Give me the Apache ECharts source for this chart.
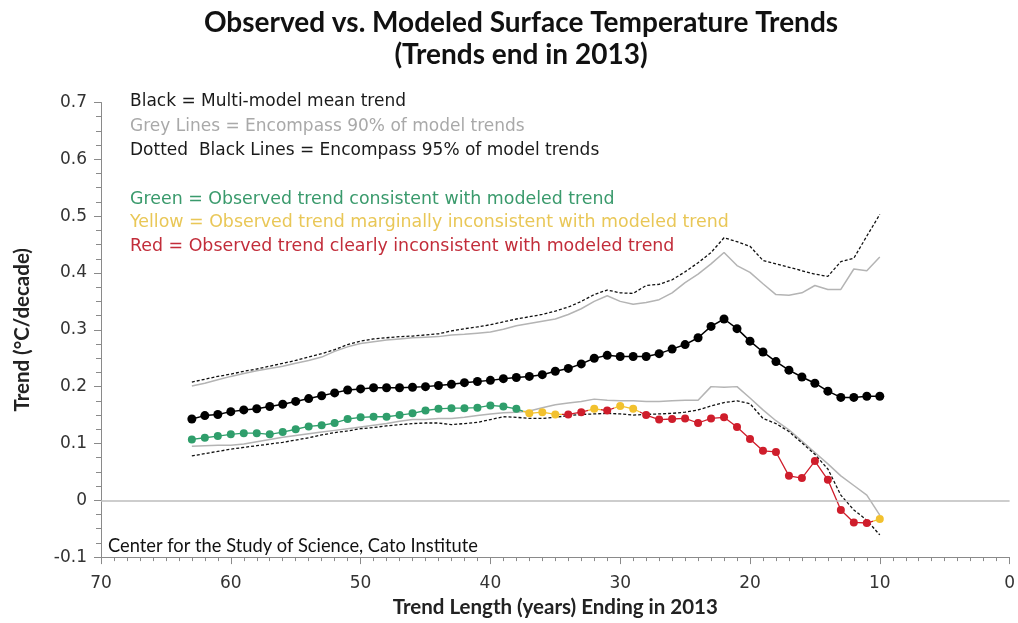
<!DOCTYPE html>
<html>
<head>
<meta charset="utf-8">
<script src="https://cdn.jsdelivr.net/npm/echarts@6/dist/echarts.min.js"></script>
<style>
html,body{margin:0;padding:0;background:#fff;}
#chart{width:1018px;height:623px;}
</style>
</head>
<body>
<div id="chart"></div>
<script>
// Trend length (years), ending in 2013
const years = [63,62,61,60,59,58,57,56,55,54,53,52,51,50,49,48,47,46,45,44,43,42,41,40,39,38,37,36,35,34,33,32,31,30,29,28,27,26,25,24,23,22,21,20,19,18,17,16,15,14,13,12,11,10];
// Multi-model mean trend (°C/decade)
const meanTrend = [0.143,0.149,0.151,0.156,0.159,0.161,0.165,0.169,0.174,0.179,0.184,0.189,0.194,0.196,0.198,0.198,0.198,0.199,0.200,0.202,0.204,0.207,0.209,0.211,0.214,0.216,0.218,0.221,0.227,0.232,0.240,0.250,0.255,0.253,0.253,0.253,0.258,0.266,0.274,0.286,0.306,0.319,0.302,0.280,0.261,0.244,0.229,0.217,0.206,0.192,0.181,0.181,0.183,0.183];
// Observed trend
const observed = [0.107,0.110,0.113,0.116,0.118,0.118,0.116,0.120,0.125,0.130,0.132,0.136,0.143,0.146,0.147,0.147,0.150,0.153,0.158,0.161,0.162,0.162,0.163,0.167,0.165,0.161,0.153,0.155,0.151,0.151,0.155,0.161,0.158,0.166,0.161,0.150,0.142,0.143,0.144,0.136,0.144,0.146,0.129,0.108,0.087,0.085,0.043,0.039,0.069,0.036,-0.017,-0.039,-0.040,-0.033];
// Consistency class of each observed trend: G consistent, Y marginal, R inconsistent
const observedClass = ['G','G','G','G','G','G','G','G','G','G','G','G','G','G','G','G','G','G','G','G','G','G','G','G','G','G','Y','Y','Y','R','R','Y','R','Y','Y','R','R','R','R','R','R','R','R','R','R','R','R','R','R','R','R','R','R','Y'];
// 95% envelope (dotted black)
const hi95 = [0.208,0.213,0.218,0.222,0.227,0.231,0.236,0.241,0.246,0.252,0.258,0.265,0.274,0.280,0.284,0.286,0.288,0.289,0.291,0.293,0.298,0.302,0.305,0.309,0.314,0.319,0.323,0.327,0.333,0.340,0.350,0.362,0.370,0.365,0.364,0.378,0.380,0.388,0.402,0.418,0.436,0.462,0.455,0.447,0.422,0.416,0.410,0.404,0.398,0.394,0.420,0.426,0.465,0.503];
const lo95 = [0.078,0.082,0.086,0.090,0.093,0.096,0.099,0.102,0.106,0.110,0.115,0.119,0.122,0.126,0.128,0.131,0.133,0.135,0.136,0.136,0.133,0.135,0.137,0.142,0.147,0.146,0.144,0.144,0.146,0.149,0.151,0.152,0.153,0.152,0.150,0.151,0.152,0.153,0.155,0.159,0.166,0.172,0.175,0.170,0.144,0.135,0.121,0.101,0.081,0.055,0.009,-0.017,-0.035,-0.061];
// 90% envelope (grey)
const hi90 = [0.201,0.206,0.212,0.218,0.223,0.228,0.232,0.236,0.241,0.246,0.252,0.262,0.270,0.276,0.279,0.282,0.284,0.286,0.287,0.288,0.291,0.292,0.294,0.296,0.301,0.307,0.311,0.315,0.319,0.327,0.337,0.350,0.360,0.350,0.345,0.348,0.353,0.365,0.383,0.398,0.416,0.436,0.413,0.401,0.381,0.362,0.361,0.365,0.378,0.371,0.371,0.407,0.404,0.428];
const lo90 = [0.095,0.096,0.097,0.097,0.099,0.103,0.107,0.111,0.114,0.117,0.120,0.123,0.126,0.129,0.132,0.135,0.139,0.142,0.142,0.144,0.144,0.146,0.149,0.152,0.154,0.155,0.157,0.163,0.168,0.171,0.174,0.178,0.176,0.175,0.175,0.174,0.174,0.175,0.176,0.176,0.200,0.199,0.200,0.180,0.159,0.140,0.124,0.104,0.084,0.064,0.043,0.026,0.009,-0.026];

const classColor = {G:'#2f9e6b', Y:'#f2c12e', R:'#cf1d2b'};

function pairs(vals){ return years.map((y,i)=>[y, vals[i]]); }

const chart = echarts.init(document.getElementById('chart'), null, {renderer:'canvas'});
const annoFont = '"DejaVu Sans", Verdana, sans-serif';
const calFont = 'Lato, "Open Sans", sans-serif';
const annoSize = '17px ';
const annoSize2 = '17.4px ';

const pieces = years.map((y,i)=>({gte:y-0.5, lt:y+0.5, color:classColor[observedClass[i]]}));

const option = {
  animation:false,
  backgroundColor:'#ffffff',
  title:{
    text:'Observed vs. Modeled Surface Temperature Trends\n(Trends end in 2013)',
    left:516, top:2, textAlign:'center',
    textStyle:{fontFamily:calFont, fontWeight:'bold', fontSize:28, color:'#111', lineHeight:32}
  },
  grid:{left:101, right:3, top:102.5, bottom:59, containLabel:false},
  xAxis:{
    type:'value', min:0, max:70, interval:10, inverse:true,
    name:'Trend Length (years) Ending in 2013', nameLocation:'middle', nameGap:39,
    nameTextStyle:{fontFamily:calFont, fontWeight:'bold', fontSize:20.5, color:'#222'},
    axisLine:{show:true, onZero:false, lineStyle:{color:'#8a8a8a', width:1}},
    axisTick:{show:true, length:7, lineStyle:{color:'#8a8a8a'}},
    minorTick:{show:true, splitNumber:10, length:4, lineStyle:{color:'#8a8a8a'}},
    splitLine:{show:false},
    axisLabel:{fontFamily:annoFont, fontSize:17, color:'#333', margin:18}
  },
  yAxis:{
    type:'value', min:-0.1, max:0.7, interval:0.1,
    name:'Trend (°C/decade)', nameLocation:'middle', nameGap:68, nameRotate:90,
    nameTextStyle:{fontFamily:calFont, fontWeight:'bold', fontSize:20.5, color:'#222'},
    axisLine:{show:true, onZero:false, lineStyle:{color:'#8a8a8a', width:1}},
    axisTick:{show:true, length:7, lineStyle:{color:'#8a8a8a'}},
    minorTick:{show:true, splitNumber:4, length:5, lineStyle:{color:'#8a8a8a'}},
    splitLine:{show:false},
    axisLabel:{fontFamily:annoFont, fontSize:17, color:'#333', margin:14,
      formatter:v=> (Math.abs(v)<1e-9 ? '0' : (Math.round(v*10)/10).toString())}
  },
  visualMap:{type:'piecewise', show:false, dimension:0, seriesIndex:5, pieces:pieces},
  series:[
    {name:'hi90', type:'line', data:pairs(hi90), symbol:'none', silent:true,
     lineStyle:{color:'#b4b4b4', width:1.5},
     markLine:{silent:true, symbol:'none', label:{show:false},
       lineStyle:{color:'#bdbdbd', width:1.5, type:'solid'}, data:[{yAxis:0}]}},
    {name:'lo90', type:'line', data:pairs(lo90), symbol:'none', silent:true,
     lineStyle:{color:'#b4b4b4', width:1.5}},
    {name:'hi95', type:'line', data:pairs(hi95), symbol:'none', silent:true,
     lineStyle:{color:'#111', width:1.3, type:[3,2]}},
    {name:'lo95', type:'line', data:pairs(lo95), symbol:'none', silent:true,
     lineStyle:{color:'#111', width:1.3, type:[3,2]}},
    {name:'mean', type:'line', data:pairs(meanTrend), symbol:'circle', symbolSize:9,
     itemStyle:{color:'#000'}, lineStyle:{color:'#000', width:1.5}},
    {name:'observed', type:'line', data:pairs(observed), symbol:'circle', symbolSize:8,
     lineStyle:{width:1.3}}
  ],
  graphic:[
    {type:'text', left:130, top:93, style:{text:'Black = Multi-model mean trend', font:annoSize+annoFont, fill:'#1a1a1a'}},
    {type:'text', left:130, top:118, style:{text:'Grey Lines = Encompass 90% of model trends', font:annoSize+annoFont, fill:'#a9a9a9'}},
    {type:'text', left:130, top:142, style:{text:'Dotted  Black Lines = Encompass 95% of model trends', font:annoSize+annoFont, fill:'#1a1a1a'}},
    {type:'text', left:130, top:191, style:{text:'Green = Observed trend consistent with modeled trend', font:annoSize2+annoFont, fill:'#3a9a6c'}},
    {type:'text', left:130, top:214, style:{text:'Yellow = Observed trend marginally inconsistent with modeled trend', font:annoSize2+annoFont, fill:'#e9c757'}},
    {type:'text', left:130, top:238, style:{text:'Red = Observed trend clearly inconsistent with modeled trend', font:annoSize2+annoFont, fill:'#c22d3a'}},
    {type:'text', left:108, top:537, style:{text:'Center for the Study of Science, Cato Institute', font:'18.3px '+calFont, fill:'#111'}}
  ]
};
chart.setOption(option);
</script>
</body>
</html>
